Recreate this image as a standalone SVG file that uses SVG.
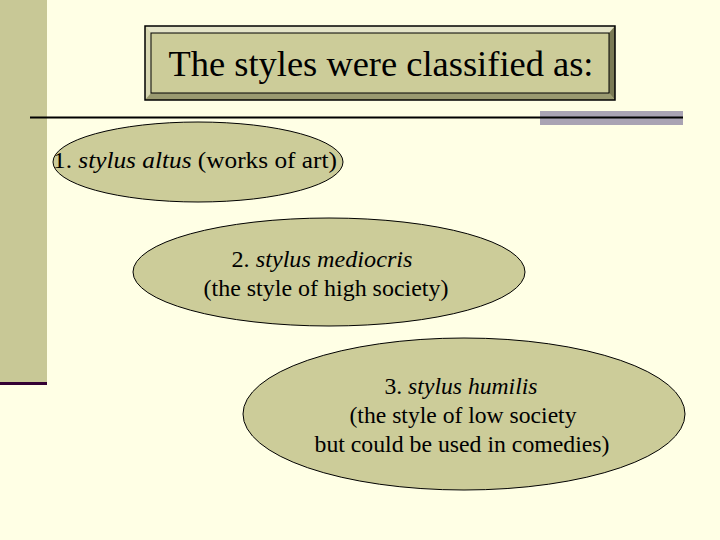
<svg xmlns="http://www.w3.org/2000/svg" width="720" height="540" viewBox="0 0 720 540">
<style>
.t{fill:#000;text-anchor:middle;font-family:'Liberation Serif','Times New Roman',Tinos,'Noto Serif','DejaVu Serif',serif}
.e{fill:#CCCC99;stroke:#000;stroke-width:1}
</style>
<rect width="720" height="540" fill="#FFFFE5"/>
<rect x="0" y="0" width="47" height="382" fill="#C8C896"/>
<rect x="0" y="382" width="47" height="3" fill="#330033"/>
<g id="title">
<rect x="145" y="26" width="470" height="74" fill="#CCCC99"/>
<polygon points="145,26 615,26 609,33 151,33" fill="#E4E4C8"/>
<polygon points="145,26 151,33 151,93 145,100" fill="#D8D8B2"/>
<polygon points="615,26 615,100 609,93 609,33" fill="#7A7A55"/>
<polygon points="145,100 615,100 609,93 151,93" fill="#9A9A70"/>
<rect x="151" y="33" width="458" height="60" fill="none" stroke="#000" stroke-width="1"/>
<rect x="145" y="26" width="470" height="74" fill="none" stroke="#000" stroke-width="1.5"/>
<text class="t" x="381" y="76" font-size="35" textLength="425" lengthAdjust="spacingAndGlyphs">The styles were classified as:</text>
</g>
<rect x="540" y="111" width="143" height="14" fill="#A9A3B3"/>
<line x1="30" y1="117.5" x2="683" y2="117.5" stroke="#000" stroke-width="2"/>
<g id="n1">
<ellipse class="e" cx="198" cy="162" rx="145" ry="40"/>
<text class="t" x="195" y="168" font-size="23" textLength="284" lengthAdjust="spacingAndGlyphs">1. <tspan font-style="italic">stylus altus</tspan> (works of art)</text>
</g>
<g id="n2">
<ellipse class="e" cx="329" cy="272" rx="196" ry="54"/>
<text class="t" x="322" y="267" font-size="23" textLength="181" lengthAdjust="spacingAndGlyphs">2. <tspan font-style="italic">stylus mediocris</tspan></text>
<text class="t" x="326" y="296" font-size="23" textLength="245" lengthAdjust="spacingAndGlyphs">(the style of high society)</text>
</g>
<g id="n3">
<ellipse class="e" cx="464" cy="414" rx="221" ry="76"/>
<text class="t" x="461" y="394" font-size="23" textLength="153" lengthAdjust="spacingAndGlyphs">3. <tspan font-style="italic">stylus humilis</tspan></text>
<text class="t" x="463" y="423" font-size="23" textLength="227" lengthAdjust="spacingAndGlyphs">(the style of low society</text>
<text class="t" x="462" y="452" font-size="23" textLength="295" lengthAdjust="spacingAndGlyphs">but could be used in comedies)</text>
</g>
</svg>
